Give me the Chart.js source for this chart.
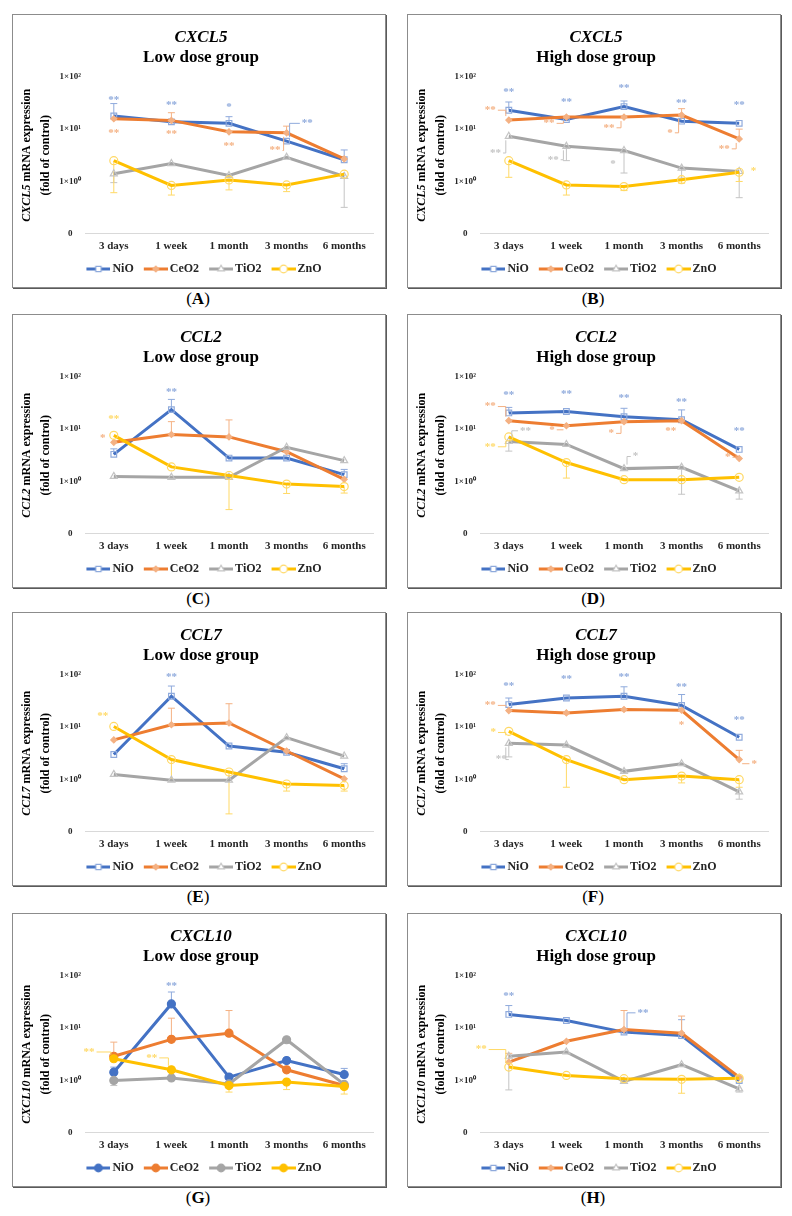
<!DOCTYPE html>
<html>
<head>
<meta charset="utf-8">
<script src="https://cdn.jsdelivr.net/npm/chart.js@4.4.1/dist/chart.umd.min.js"></script>
<style>
  body { margin: 0; background: #fff; width: 792px; height: 1216px; position: relative; overflow: hidden; }
  .panel { position: absolute; width: 372px; height: 272px; border: 1px solid #8c8c8c; box-shadow: 1px 1px 0 #5a5a5a; background: #fff; }
  .panel canvas { position: absolute; left: 0; top: 0; }
  .tag { position: absolute; width: 372px; text-align: center; font: 17px "Liberation Serif", serif; color: #000; }
</style>
</head>
<body>
<script>
const timePoints = ['3 days', '1 week', '1 month', '3 months', '6 months'];
const materials = ['NiO', 'CeO2', 'TiO2', 'ZnO'];
const yTicks = [0.1, 1, 10, 100];
const yTickLabels = ['0', '1×10⁰', '1×10¹', '1×10²'];

// rows: NiO, CeO2, TiO2, ZnO. Err = end of the one-sided error bar
// Stars: [series, category position, y value, text, leader line to the point]

// (A) CXCL5 low dose
const cxcl5Low = [
    [17.8, 13.8, 12.9, 5.9, 2.6],
    [15.8, 14.7, 8.9, 8.5, 2.7],
    [1.4, 2.2, 1.3, 2.9, 1.25],
    [2.5, 0.84, 1.07, 0.86, 1.38]
];
const cxcl5LowErr = [
    [30.8, null, 17.3, null, 4.0],
    [null, 20.6, null, 11.4, null],
    [0.95, null, null, null, 0.32],
    [0.61, 0.55, 0.69, 0.64, null]
];
const cxcl5LowStars = [
    [0, 0, 35.5, '**'], [0, 1, 28.5, '**'], [0, 2, 26.5, '*'], [0, 3.36, 12.9, '**', true],
    [1, 0, 8.3, '**'], [1, 1, 7.9, '**'], [1, 2, 4.7, '**'], [1, 2.8, 3.9, '**', true]
];

// (B) CXCL5 high dose
const cxcl5High = [
    [23, 15.3, 27, 14.2, 12.9],
    [14.9, 17, 17, 18.6, 6.5],
    [7.3, 4.7, 3.9, 1.8, 1.55],
    [2.5, 0.86, 0.8, 1.08, 1.5]
];
const cxcl5HighErr = [
    [33, null, 34.5, null, null],
    [null, null, null, 24.6, 10],
    [null, 2.5, 1.45, 1.16, 0.49],
    [1.2, 0.55, 0.67, 0.93, 1.0]
];
const cxcl5HighStars = [
    [0, 0, 51, '**'], [0, 1, 33, '**'], [0, 2, 60, '**'], [0, 3, 31, '**'], [0, 4, 28.5, '**'],
    [1, -0.32, 23, '**', true], [1, 0.7, 12.9, '**', true], [1, 1.74, 10.6, '**', true], [1, 2.8, 8.5, '*', true], [1, 3.74, 4.2, '**', true],
    [2, -0.23, 3.5, '**', true], [2, 0.77, 2.6, '**', true], [2, 1.81, 2.15, '*'],
    [3, 4.25, 1.6, '*']
];

// (C) CCL2 low dose
const ccl2Low = [
    [3.3, 23.6, 2.8, 2.8, 1.35],
    [5.6, 7.9, 7.1, 3.7, 1.1],
    [1.25, 1.2, 1.2, 4.5, 2.5],
    [7.6, 1.9, 1.3, 0.89, 0.8]
];
const ccl2LowErr = [
    [4.2, 37, null, null, 1.7],
    [null, 13.9, 15, null, null],
    [null, null, null, null, null],
    [null, null, 0.29, 0.59, 0.6]
];
const ccl2LowStars = [[0, 1, 50, '**'], [3, 0, 15.7, '**'], [1, -0.19, 6.8, '*']];

// (D) CCL2 high dose
const ccl2High = [
    [20.4, 21.7, 17.3, 15.1, 4.1],
    [14.5, 11.6, 13.9, 14.5, 2.75],
    [5.8, 5.1, 1.76, 1.87, 0.66],
    [7.1, 2.3, 1.08, 1.08, 1.2]
];
const ccl2HighErr = [
    [26, null, 25, 23.3, null],
    [null, null, null, null, null],
    [3.8, null, null, 0.57, 0.46],
    [null, 1.16, null, null, null]
];
const ccl2HighStars = [
    [0, 0, 45.5, '**'], [0, 1, 47.5, '**'], [0, 2, 39, '**'], [0, 3, 32.8, '**'], [0, 4, 9.3, '**'],
    [1, -0.32, 27, '**', true], [1, 0.75, 9.7, '*', true], [1, 1.78, 8.3, '*', true], [1, 2.81, 9.3, '**'], [1, 3.8, 2.9, '*', true],
    [2, 0.29, 9.3, '**', true], [2, 2.2, 3.0, '*', true],
    [3, -0.32, 4.6, '**', true]
];

// (E) CCL7 low dose
const ccl7Low = [
    [3.0, 39, 4.35, 3.3, 1.6],
    [5.7, 11.1, 12, 3.5, 1.03],
    [1.25, 0.97, 0.97, 6.3, 2.8],
    [10.3, 2.4, 1.39, 0.82, 0.77]
];
const ccl7LowErr = [
    [null, 61, null, null, 2.0],
    [null, 23, 28, null, null],
    [null, null, null, null, null],
    [null, 0.97, 0.22, 0.6, 0.6]
];
const ccl7LowStars = [[0, 1, 89, '**'], [3, -0.19, 16.1, '**']];

// (F) CCL7 high dose
const ccl7High = [
    [27, 36, 39, 26, 6.4],
    [20.7, 18.7, 21.7, 21, 2.4],
    [4.9, 4.55, 1.43, 2.0, 0.58],
    [8.3, 2.4, 0.99, 1.16, 0.99]
];
const ccl7HighErr = [
    [36, null, 59, 42, null],
    [null, null, null, null, 3.6],
    [2.7, null, null, null, 0.42],
    [null, 0.71, null, 0.86, 0.71]
];
const ccl7HighStars = [
    [0, 0, 61, '**'], [0, 1, 82, '**'], [0, 2, 89, '**'], [0, 3, 57, '**'], [0, 4, 13.8, '**'],
    [1, -0.32, 26, '**', true], [1, 3, 11, '*'], [1, 4.26, 2.0, '*', true],
    [3, -0.27, 7.9, '*', true], [2, -0.13, 2.4, '**', true]
];

// (G) CXCL10 low dose
const cxcl10Low = [
    [1.44, 29, 1.16, 2.4, 1.3],
    [2.9, 6.1, 8.0, 1.6, 0.8],
    [1.0, 1.12, 0.86, 6.0, 0.84],
    [2.6, 1.6, 0.8, 0.93, 0.77]
];
const cxcl10LowErr = [
    [1.8, 49, null, null, 1.7],
    [5.4, 15.5, 21.7, null, null],
    [0.8, null, null, null, null],
    [null, null, 0.6, 0.67, 0.55]
];
const cxcl10LowStars = [[0, 1, 63, '**'], [3, -0.43, 3.5, '**', true], [3, 0.66, 2.7, '**', true]];

// (H) CXCL10 high dose
const cxcl10High = [
    [18.3, 14, 8.4, 7.2, 1.0],
    [2.24, 5.6, 9.4, 8.0, 1.16],
    [2.9, 3.5, 0.96, 2.0, 0.69],
    [1.8, 1.25, 1.08, 1.05, 1.1]
];
const cxcl10HighErr = [
    [27, null, null, 14.5, null],
    [3.3, null, 21.7, 17, null],
    [0.66, null, null, null, 0.6],
    [null, null, null, 0.57, null]
];
const cxcl10HighStars = [[0, 0, 41, '**'], [0, 2.33, 19.6, '**', true], [3, -0.48, 3.9, '**', true]];

const panels = [
    { tag: 'A', gene: 'CXCL5', dose: 'Low dose group', values: cxcl5Low, err: cxcl5LowErr, stars: cxcl5LowStars },
    { tag: 'B', gene: 'CXCL5', dose: 'High dose group', values: cxcl5High, err: cxcl5HighErr, stars: cxcl5HighStars },
    { tag: 'C', gene: 'CCL2', dose: 'Low dose group', values: ccl2Low, err: ccl2LowErr, stars: ccl2LowStars },
    { tag: 'D', gene: 'CCL2', dose: 'High dose group', values: ccl2High, err: ccl2HighErr, stars: ccl2HighStars },
    { tag: 'E', gene: 'CCL7', dose: 'Low dose group', values: ccl7Low, err: ccl7LowErr, stars: ccl7LowStars },
    { tag: 'F', gene: 'CCL7', dose: 'High dose group', values: ccl7High, err: ccl7HighErr, stars: ccl7HighStars },
    { tag: 'G', gene: 'CXCL10', dose: 'Low dose group', values: cxcl10Low, err: cxcl10LowErr, stars: cxcl10LowStars, filled: true },
    { tag: 'H', gene: 'CXCL10', dose: 'High dose group', values: cxcl10High, err: cxcl10HighErr, stars: cxcl10HighStars }
];

const lineColors = ['#4472C4', '#ED7D31', '#A5A5A5', '#FFC000'];
const lightColors = ['#8FAADC', '#F4B183', '#C4C4C4', '#FFD966'];
const pointStyles = ['rect', 'rectRot', 'triangle', 'circle'];
const serif = '"Liberation Serif", "Times New Roman", serif';

// panel box positions on the page
const boxLeft = [12, 407];
const boxTop = [14, 314, 612, 913];

// legend sample: a short line with the marker, drawn in the right part of the image
function legendSymbol(i, filled) {
    const c = document.createElement('canvas');
    c.width = 34;
    c.height = 10;
    const g = c.getContext('2d');
    g.strokeStyle = lineColors[i];
    g.lineWidth = 3;
    g.beginPath();
    g.moveTo(10, 5);
    g.lineTo(34, 5);
    g.stroke();
    g.fillStyle = filled ? lineColors[i] : (i === 1 ? lightColors[i] : '#fff');
    g.strokeStyle = filled ? lineColors[i] : lightColors[i];
    g.lineWidth = 1.2;
    Chart.helpers.drawPoint(g, {
        pointStyle: filled ? 'circle' : pointStyles[i],
        radius: i === 1 && !filled ? 3 : 3.8,
        rotation: 0,
        borderWidth: 1.2
    }, 22, 5);
    return c;
}

function errorBars(p) {
    return {
        id: 'errorBars',
        beforeDatasetsDraw(chart) {
            const { ctx, scales: { x, y } } = chart;
            ctx.save();
            ctx.lineWidth = 1;
            p.err.forEach((row, s) => {
                ctx.strokeStyle = lightColors[s];
                row.forEach((end, j) => {
                    if (end === null) return;
                    const px = x.getPixelForValue(j);
                    const y1 = y.getPixelForValue(p.values[s][j]);
                    const y2 = y.getPixelForValue(end);
                    ctx.beginPath();
                    ctx.moveTo(px, y1);
                    ctx.lineTo(px, y2);
                    ctx.moveTo(px - 3.5, y2);
                    ctx.lineTo(px + 3.5, y2);
                    ctx.stroke();
                });
            });
            ctx.restore();
        }
    };
}

function starMarks(p) {
    return {
        id: 'starMarks',
        afterDatasetsDraw(chart) {
            const { ctx, scales: { x, y } } = chart;
            ctx.save();
            ctx.font = 'bold 11px ' + serif;
            ctx.textAlign = 'center';
            ctx.textBaseline = 'middle';
            ctx.lineWidth = 1;
            p.stars.forEach(([s, at, val, txt, leader]) => {
                const tx = x.getPixelForValue(at);
                const ty = y.getPixelForValue(val);
                ctx.fillStyle = lightColors[s];
                ctx.fillText(txt, tx, ty);
                if (!leader) return;
                // elbow line from the label to the point it marks
                const j = Math.round(at);
                const px = x.getPixelForValue(j);
                const py = y.getPixelForValue(p.values[s][j]);
                const half = ctx.measureText(txt).width / 2;
                const sx = tx < px ? tx + half + 2 : tx - half - 2;
                const ex = tx < px ? px - 3 : px + 3;
                const ey = py + (ty < py ? -4 : 4);
                ctx.strokeStyle = lightColors[s];
                ctx.beginPath();
                ctx.moveTo(sx, ty);
                ctx.lineTo(ex, ty);
                ctx.lineTo(ex, ey);
                ctx.stroke();
            });
            ctx.restore();
        }
    };
}

function yTitle(p) {
    return {
        id: 'yTitle',
        afterDraw(chart) {
            const { ctx, chartArea } = chart;
            const cy = (chartArea.top + chartArea.bottom) / 2;
            const fi = 'italic bold 12px ' + serif;
            const fb = 'bold 12px ' + serif;
            const rest = ' mRNA expression';
            ctx.save();
            ctx.fillStyle = '#000';
            ctx.textBaseline = 'middle';
            ctx.translate(14, cy);
            ctx.rotate(-Math.PI / 2);
            ctx.font = fi;
            const w1 = ctx.measureText(p.gene).width;
            ctx.font = fb;
            const w2 = ctx.measureText(rest).width;
            const x0 = -(w1 + w2) / 2;
            ctx.textAlign = 'left';
            ctx.font = fi;
            ctx.fillText(p.gene, x0, 0);
            ctx.font = fb;
            ctx.fillText(rest, x0 + w1, 0);
            ctx.restore();

            ctx.save();
            ctx.fillStyle = '#000';
            ctx.translate(33, cy);
            ctx.rotate(-Math.PI / 2);
            ctx.font = fb;
            ctx.textAlign = 'center';
            ctx.textBaseline = 'middle';
            ctx.fillText('(fold of control)', 0, 0);
            ctx.restore();
        }
    };
}

function buildPanel(p, idx) {
    const left = boxLeft[idx % 2];
    const top = boxTop[Math.floor(idx / 2)];

    const box = document.createElement('div');
    box.className = 'panel';
    box.style.left = left + 'px';
    box.style.top = top + 'px';
    const canvas = document.createElement('canvas');
    canvas.width = 372;
    canvas.height = 272;
    box.appendChild(canvas);
    document.body.appendChild(box);

    const tag = document.createElement('div');
    tag.className = 'tag';
    tag.style.left = left + 'px';
    tag.style.top = (top + 275) + 'px';
    tag.innerHTML = '(<b>' + p.tag + '</b>)';
    document.body.appendChild(tag);

    const datasets = materials.map((m, i) => ({
        label: m,
        data: p.values[i],
        borderColor: lineColors[i],
        borderWidth: 3,
        pointStyle: p.filled ? 'circle' : pointStyles[i],
        pointRadius: p.filled ? 4 : (i === 1 ? 3 : 4),
        pointBorderWidth: 1.2,
        pointBorderColor: p.filled ? lineColors[i] : lightColors[i],
        pointBackgroundColor: p.filled ? lineColors[i] : (i === 1 ? lightColors[i] : 'rgba(255,255,255,0)'),
        tension: 0,
        order: materials.length - i
    }));

    new Chart(canvas.getContext('2d'), {
        type: 'line',
        data: { labels: timePoints, datasets: datasets },
        options: {
            responsive: false,
            animation: false,
            layout: { padding: { left: 16, right: 12, top: 0, bottom: 2 } },
            plugins: {
                title: {
                    display: true,
                    text: p.gene,
                    color: '#000',
                    font: { family: serif, size: 17, style: 'italic', weight: 'bold' },
                    padding: { top: 12, bottom: 0 }
                },
                subtitle: {
                    display: true,
                    text: p.dose,
                    color: '#000',
                    font: { family: serif, size: 17, weight: 'bold' },
                    padding: { top: 0, bottom: 9 }
                },
                legend: {
                    position: 'bottom',
                    labels: {
                        usePointStyle: true,
                        pointStyleWidth: 26,
                        padding: 4,
                        color: '#262626',
                        font: { family: serif, size: 12, weight: 'bold' },
                        generateLabels: () => materials.map((m, i) => ({
                            text: m,
                            pointStyle: legendSymbol(i, p.filled),
                            datasetIndex: i,
                            fontColor: '#262626',
                            hidden: false,
                            lineWidth: 0
                        }))
                    }
                },
                tooltip: { enabled: false }
            },
            scales: {
                x: {
                    offset: true,
                    grid: { display: false, drawTicks: false },
                    border: { display: true, color: '#d9d9d9', width: 1 },
                    ticks: {
                        padding: 6,
                        color: '#262626',
                        font: { family: serif, size: 11, weight: 'bold' }
                    }
                },
                y: {
                    type: 'logarithmic',
                    min: 0.1,
                    max: 100,
                    grid: { display: false, drawTicks: false },
                    border: { display: false },
                    afterBuildTicks: axis => { axis.ticks = yTicks.map(v => ({ value: v })); },
                    afterFit: scale => { scale.width = 56; },
                    ticks: {
                        crossAlign: 'center',
                        padding: 4,
                        color: '#262626',
                        font: { family: serif, size: 9, weight: 'bold' },
                        callback: v => yTickLabels[yTicks.indexOf(v)]
                    }
                }
            }
        },
        plugins: [errorBars(p), starMarks(p), yTitle(p)]
    });
}

panels.forEach(buildPanel);
</script>
</body>
</html>
